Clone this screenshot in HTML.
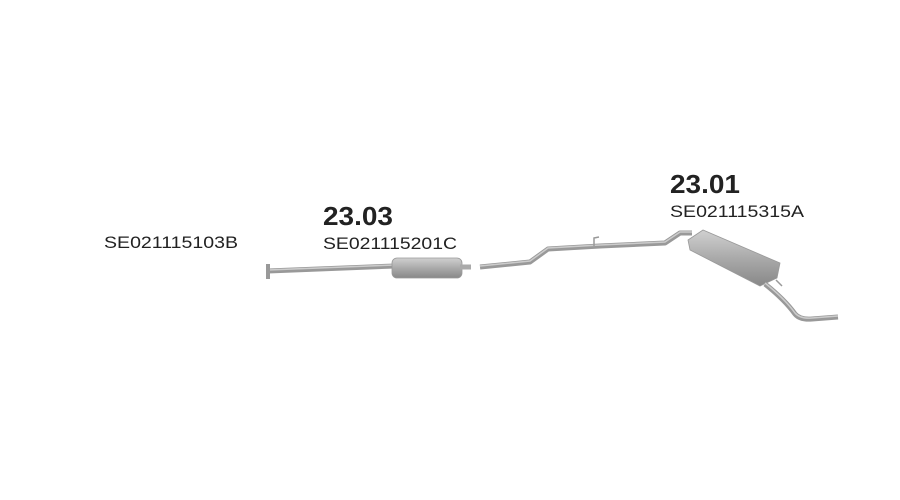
<!DOCTYPE html>
<html><head><style>
html,body{margin:0;padding:0;background:#fff;}
svg{display:block;}
text{font-family:"Liberation Sans",Arial,sans-serif;fill:#222;}
</style></head><body>
<svg width="900" height="500" viewBox="0 0 900 500" xmlns="http://www.w3.org/2000/svg">
<defs>
<linearGradient id="g1" x1="0" y1="0" x2="0" y2="1">
<stop offset="0" stop-color="#d0d0d0"/><stop offset="0.5" stop-color="#aaaaaa"/><stop offset="1" stop-color="#888"/>
</linearGradient>
</defs>
<text x="104" y="248" font-size="17" textLength="134" lengthAdjust="spacingAndGlyphs">SE021115103B</text>
<text x="323" y="225" font-size="26" font-weight="bold" textLength="70" lengthAdjust="spacingAndGlyphs">23.03</text>
<text x="323" y="249" font-size="17" textLength="134" lengthAdjust="spacingAndGlyphs">SE021115201C</text>
<text x="670" y="193" font-size="26" font-weight="bold" textLength="70" lengthAdjust="spacingAndGlyphs">23.01</text>
<text x="670" y="217" font-size="17" textLength="134" lengthAdjust="spacingAndGlyphs">SE021115315A</text>

<!-- front pipe -->
<line x1="268" y1="271" x2="395" y2="266" stroke="#999" stroke-width="5"/>
<line x1="268" y1="270" x2="395" y2="265" stroke="#ccc" stroke-width="1.5"/>
<rect x="266" y="264" width="4" height="15" fill="#999"/>
<rect x="392" y="258" width="70" height="20" rx="5" fill="url(#g1)" stroke="#999" stroke-width="0.8"/>
<line x1="460" y1="267" x2="471" y2="267" stroke="#aaa" stroke-width="5"/>

<!-- middle pipe -->
<polyline points="480,267 530,262 548,249 600,246 665,243 680,233 692,233" fill="none" stroke="#999" stroke-width="5" stroke-linejoin="round"/>
<polyline points="480,266 530,261 548,248 600,245 665,242 680,232 692,232" fill="none" stroke="#ccc" stroke-width="1.5"/>
<path d="M594 246 L594 238 L599 237" fill="none" stroke="#999" stroke-width="1.5"/>

<!-- rear muffler -->
<polygon points="688,240 703,230 780,263 777,278 760,286 690,250" fill="url(#g1)" stroke="#999" stroke-width="0.8"/>
<path d="M776 280 L782 286" fill="none" stroke="#999" stroke-width="1.5"/>
<path d="M765 284 Q785 300 795 314 Q800 320 812 319 L838 317" fill="none" stroke="#999" stroke-width="5"/>
<path d="M765 283 Q785 299 795 313 Q800 319 812 318 L838 316" fill="none" stroke="#ccc" stroke-width="1.5"/>
</svg>
</body></html>
